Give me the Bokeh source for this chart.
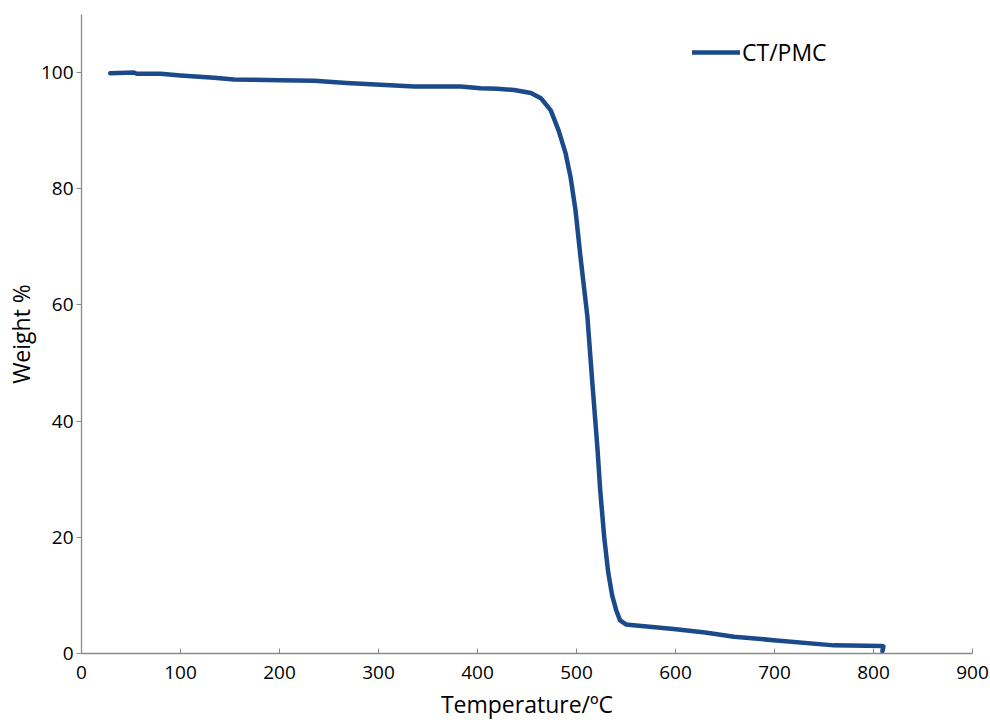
from bokeh.plotting import figure
from bokeh.models import Range1d, Legend, LegendItem, FixedTicker
from bokeh.embed import file_html
from bokeh.resources import INLINE

temperature = [29, 53, 56, 80, 100, 134, 154, 200, 235, 268, 302, 336, 383, 403, 420, 437,
               454, 464, 474, 482, 489, 494, 499, 504, 511, 516, 521, 524, 528, 532, 536,
               540, 544, 550, 555, 598, 630, 659, 699, 760, 808, 810, 809]
weight = [99.9, 100.0, 99.8, 99.8, 99.5, 99.1, 98.8, 98.7, 98.6, 98.2, 97.9, 97.6, 97.6, 97.3, 97.2, 97.0,
          96.5, 95.6, 93.5, 90.0, 86.1, 82.0, 76.3, 68.3, 58.0, 46.6, 35.7, 28.0, 20.0, 14.0, 10.0,
          7.5, 5.7, 5.0, 4.9, 4.2, 3.6, 2.9, 2.3, 1.4, 1.3, 1.2, 0.4]
x_ticks = [0, 100, 200, 300, 400, 500, 600, 700, 800, 900]
y_ticks = [0, 20, 40, 60, 80, 100]
series_name = "CT/PMC"

FONT = "Open Sans"
BLUE = "#1b4a8a"
AXIS = "#8a8a8a"

p = figure(width=990, height=722, output_backend="svg", toolbar_location=None,
           x_range=Range1d(0, 900), y_range=Range1d(0, 110),
           min_border_left=81, min_border_right=18, min_border_top=14, min_border_bottom=69)
p.outline_line_color = None
p.xgrid.visible = False
p.ygrid.visible = False
p.background_fill_color = "white"
p.border_fill_color = "white"

r = p.line(temperature, weight, line_color=BLUE, line_width=4.5, line_join="round", line_cap="round")

for ax in (p.xaxis[0], p.yaxis[0]):
    ax.axis_line_color = AXIS
    ax.axis_line_width = 1.3
    ax.major_tick_line_color = AXIS
    ax.minor_tick_line_color = None
    ax.major_label_text_font = FONT
    ax.major_label_text_font_size = "19px"
    ax.major_label_text_color = "black"
    ax.axis_label_text_font = FONT
    ax.axis_label_text_font_style = "normal"
    ax.axis_label_text_color = "black"
    ax.axis_label_text_font_size = "23px"

p.xaxis.ticker = FixedTicker(ticks=x_ticks)
p.yaxis.ticker = FixedTicker(ticks=y_ticks)
p.xaxis.major_tick_in = 5
p.xaxis.major_tick_out = 0
p.xaxis.major_label_standoff = 12
p.xaxis.axis_label = "Temperature/ºC"
p.xaxis.axis_label_standoff = 6

p.yaxis.major_tick_in = 0
p.yaxis.major_tick_out = 5
p.yaxis.major_label_standoff = 3
p.yaxis.axis_label = "Weight %"
p.yaxis.axis_label_standoff = 1

legend = Legend(items=[LegendItem(label=series_name, renderers=[r])],
                location=(611, 585), border_line_color=None, background_fill_alpha=0,
                padding=0, margin=0, spacing=0, glyph_width=48, glyph_height=24,
                label_height=24, label_standoff=2,
                label_text_font=FONT, label_text_font_size="23px", label_text_color="black")
p.add_layout(legend)

open("out.html", "w").write(file_html(p, INLINE))
